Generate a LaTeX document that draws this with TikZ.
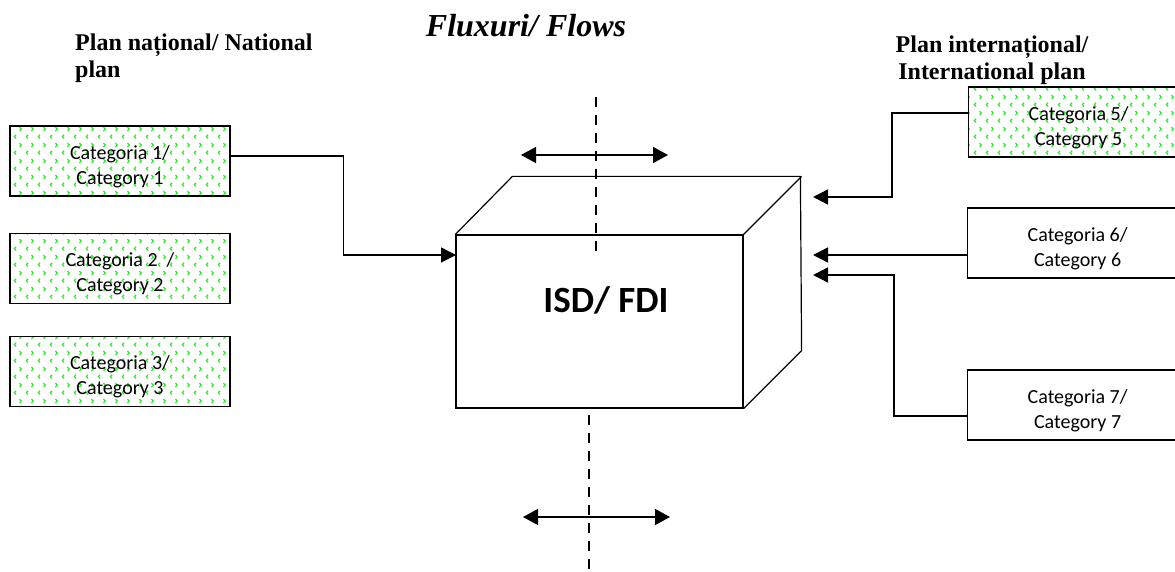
\documentclass[tikz,border=0pt]{standalone}
\usepackage{fontspec}
\setmainfont{Liberation Serif}
\newfontfamily\calib{Carlito}
\usepackage{tikz}
\usepackage{xcolor}
\usetikzlibrary{arrows.meta,positioning,calc,patterns}
\definecolor{ink}{HTML}{000000}
\definecolor{dotgreen}{HTML}{22EE22}
% little green chevrons, as in the source
\pgfdeclarepatternformonly{chevdots}{\pgfqpoint{0pt}{0pt}}{\pgfqpoint{12pt}{16pt}}{\pgfqpoint{12pt}{16pt}}{
  \pgfsetlinewidth{1.2pt}
  \pgfpathmoveto{\pgfqpoint{4.5pt}{1.5pt}}\pgfpathlineto{\pgfqpoint{2.5pt}{3.5pt}}\pgfpathlineto{\pgfqpoint{4.5pt}{5.5pt}}
  \pgfpathmoveto{\pgfqpoint{8pt}{9.5pt}}\pgfpathlineto{\pgfqpoint{10pt}{11.5pt}}\pgfpathlineto{\pgfqpoint{8pt}{13.5pt}}
  \pgfusepath{stroke}
}
\newcommand{\cattext}[2]{\rule{0pt}{25pt}#1\\#2}
\tikzset{
  catbox/.style={draw=ink,line width=1.2pt,fill=white,
                 minimum width=220pt,minimum height=70pt,
                 align=center,font=\calib\fontsize{20}{25}\selectfont,inner sep=2pt},
  dotbox/.style={catbox,fill=none,preaction={fill=white},pattern=chevdots,pattern color=dotgreen},
  cubeface/.style={draw=ink,line width=1.2pt},
  planlbl/.style={font=\bfseries\fontsize{24}{27}\selectfont,align=left,inner sep=0pt},
  flowarr/.style={-{Triangle[length=15pt,width=15pt]},line width=1.4pt},
  twoarr/.style={{Triangle[length=15pt,width=16pt]}-{Triangle[length=15pt,width=16pt]},line width=1.4pt},
  axisline/.style={line width=1.4pt,dash pattern=on 10pt off 8pt}
}

\begin{document}
\begin{tikzpicture}[x=1pt,y=-1pt]
  \useasboundingbox (0,0) rectangle (1175,572);
  % titles
  \node[font=\bfseries\itshape\fontsize{32}{36}\selectfont,anchor=base] (title) at (526,37) {Fluxuri/ Flows};
  \node[planlbl,anchor=base west] (natl) at (75,78) {Plan național/ National\\plan};
  \node[planlbl,align=center,anchor=base] (intl) at (992,80) {Plan internațional/\\International plan};

  % national categories
  \node[dotbox] (c1) at (120,161) {\cattext{Categoria 1/}{Category 1}};
  \node[dotbox] (c2) at (120,268.5) {\cattext{Categoria 2 \ /}{Category 2}};
  \node[dotbox] (c3) at (120,371.5) {\cattext{Categoria 3/}{Category 3}};

  % international categories
  \node[dotbox,anchor=west] (c5) at (968,122) {\cattext{Categoria 5/}{Category 5}};
  \node[catbox,anchor=west] (c6) at (967,243) {\cattext{Categoria 6/}{Category 6}};
  \node[catbox,anchor=west] (c7) at (967,405) {\cattext{Categoria 7/}{Category 7}};

  % the box
  \node[cubeface,minimum width=287pt,minimum height=173pt,inner sep=0pt] (fdi) at (599.5,321.5) {};
  \draw[cubeface,line join=round] (fdi.north west) -- ++(57,-58) -- ++(288,0) -- ($(fdi.south east)+(58,-58)$) -- (fdi.south east);
  \draw[cubeface] (fdi.north east) -- ++(58,-58);
  \node[font=\calib\bfseries\fontsize{37}{40}\selectfont] (isd) at (606,300) {ISD/ FDI};

  % dashed axis and two-way flows
  \coordinate (ax1) at (596,97);
  \coordinate (ax2) at (596,257);
  \coordinate (ax3) at (589,415);
  \coordinate (ax4) at (589,575);
  \draw[axisline] (ax1) -- (ax2);
  \draw[axisline] (ax3) -- (ax4);
  \coordinate (up1) at (521,155);
  \coordinate (up2) at (668,155);
  \coordinate (lo1) at (523,517);
  \coordinate (lo2) at (670,517);
  \draw[twoarr] (up1) -- (up2);
  \draw[twoarr] (lo1) -- (lo2);

  % inflows
  \coordinate (in1) at (456,255);
  \coordinate (in5) at (813,197);
  \coordinate (in6) at (813,255);
  \coordinate (in7) at (813,275);
  \draw[flowarr] ([yshift=5pt]c1.east) -- ++(113,0) |- (in1);
  \draw[flowarr] ([yshift=9pt]c5.west) -- ++(-76,0) |- (in5);
  \draw[flowarr] ([yshift=-12pt]c6.west) -- (in6);
  \draw[flowarr] ([yshift=-11pt]c7.west) -- ++(-73,0) |- (in7);
\end{tikzpicture}
\end{document}
